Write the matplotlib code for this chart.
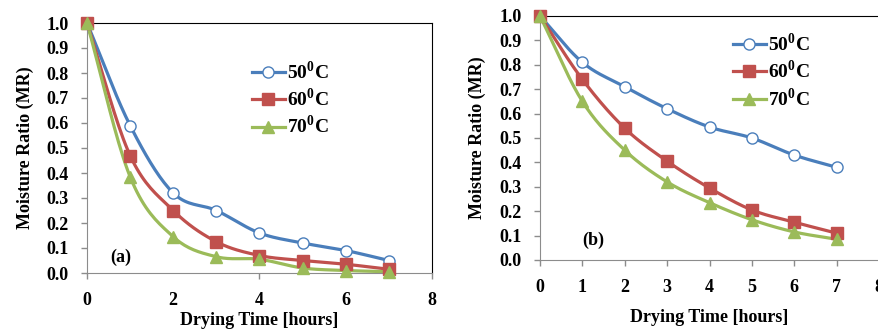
import numpy as np
import matplotlib
matplotlib.use('Agg')
import matplotlib.pyplot as plt

plt.rcParams['font.family'] = ['Liberation Serif', 'DejaVu Serif']
plt.rcParams['font.weight'] = 'bold'
plt.rcParams['mathtext.fontset'] = 'custom'
plt.rcParams['mathtext.rm'] = 'Liberation Serif:bold'
plt.rcParams['mathtext.bf'] = 'Liberation Serif:bold'

hours = [0, 1, 2, 3, 4, 5, 6, 7]
labels = ['50$^0$C', '60$^0$C', '70$^0$C']

mr_a_50 = [1.0, 0.59, 0.32, 0.25, 0.16, 0.12, 0.09, 0.05]
mr_a_60 = [1.0, 0.47, 0.25, 0.125, 0.07, 0.05, 0.035, 0.015]
mr_a_70 = [1.0, 0.385, 0.145, 0.065, 0.055, 0.02, 0.01, 0.005]

mr_b_50 = [1.0, 0.81, 0.71, 0.62, 0.545, 0.50, 0.43, 0.38]
mr_b_60 = [1.0, 0.74, 0.54, 0.405, 0.295, 0.205, 0.155, 0.11]
mr_b_70 = [1.0, 0.65, 0.45, 0.32, 0.235, 0.165, 0.115, 0.085]

colors = ['#4a7ebb', '#c0504d', '#9bbb59']
markers = ['o', 's', '^']


def smooth(x, y, n=20):
    # catmull-rom curve through the points, like excel's smoothed line
    x = np.asarray(x, float); y = np.asarray(y, float)
    px = np.concatenate([[2*x[0]-x[1]], x, [2*x[-1]-x[-2]]])
    py = np.concatenate([[2*y[0]-y[1]], y, [2*y[-1]-y[-2]]])
    xs, ys = [], []
    t = np.linspace(0, 1, n)
    for i in range(1, len(px)-2):
        for p, out in ((px, xs), (py, ys)):
            p0, p1, p2, p3 = p[i-1], p[i], p[i+1], p[i+2]
            out.append(0.5*((2*p1) + (-p0+p2)*t + (2*p0-5*p1+4*p2-p3)*t**2 + (-p0+3*p1-3*p2+p3)*t**3))
    return np.concatenate(xs), np.concatenate(ys)


def panel(ax, series, xticks, tag, tagpos, legpos, ylab_x):
    for s, c, m, lab in zip(series, colors, markers, labels):
        sx, sy = smooth(hours, s)
        ax.plot(sx, sy, color=c, lw=2.3, zorder=2)
        face = 'white' if m == 'o' else c
        ms = 8
        ax.plot(hours, s, ls='none', marker=m, ms=ms, mfc=face, mec=c, mew=1.0, zorder=3, clip_on=False)
        ax.plot([], [], color=c, lw=2.3, marker=m, ms=ms, mfc=face, mec=c, label=lab)
    ax.set_xlim(0, 8)
    ax.set_ylim(0, 1.0)
    ax.set_yticks(np.arange(0, 1.01, 0.1))
    ax.set_yticklabels(['%.1f' % v for v in np.arange(0, 1.01, 0.1)])
    ax.set_xticks(xticks)
    for side in ['left', 'bottom']:
        ax.spines[side].set_color('#8c8c8c')
    for side in ['top', 'right']:
        ax.spines[side].set_color('black')
    ax.tick_params(axis='both', colors='#8c8c8c', labelcolor='black', labelsize=13, length=4, width=1)
    ax.tick_params(axis='x', pad=10)
    ax.tick_params(axis='y', pad=9)
    ax.set_ylabel('Moisture Ratio (MR)', fontsize=13, fontweight='bold')
    ax.yaxis.set_label_coords(ylab_x, 0.5)
    ax.set_xlabel('Drying Time [hours]', fontsize=13, fontweight='bold')
    ax.text(tagpos[0], tagpos[1], tag, fontsize=13, fontweight='bold')
    ax.legend(loc='upper left', bbox_to_anchor=legpos, frameon=False, fontsize=14,
              handlelength=1.7, handletextpad=0.1, labelspacing=0.25, borderpad=0,
              borderaxespad=0)


fig = plt.figure(figsize=(8.79, 3.31), dpi=100)
ax1 = fig.add_axes([87/879, 1-273/331, 345/879, 250/331])
ax2 = fig.add_axes([540/879, 1-260/331, 339/879, 244/331])

panel(ax1, [mr_a_50, mr_a_60, mr_a_70], [0, 2, 4, 6, 8], '(a)', (0.53, 0.044), (0.478, 0.852), -0.154)
panel(ax2, [mr_b_50, mr_b_60, mr_b_70], [0, 1, 2, 3, 4, 5, 6, 7, 8], '(b)', (0.99, 0.06), (0.569, 0.934), -0.159)
# left panel only shows tick marks at 0, 4 and 8
for i in (1, 3):
    ax1.xaxis.get_major_ticks()[i].tick1line.set_visible(False)
ax1.xaxis.labelpad = 2
ax2.xaxis.labelpad = 9

fig.savefig('out.png', dpi=100)
